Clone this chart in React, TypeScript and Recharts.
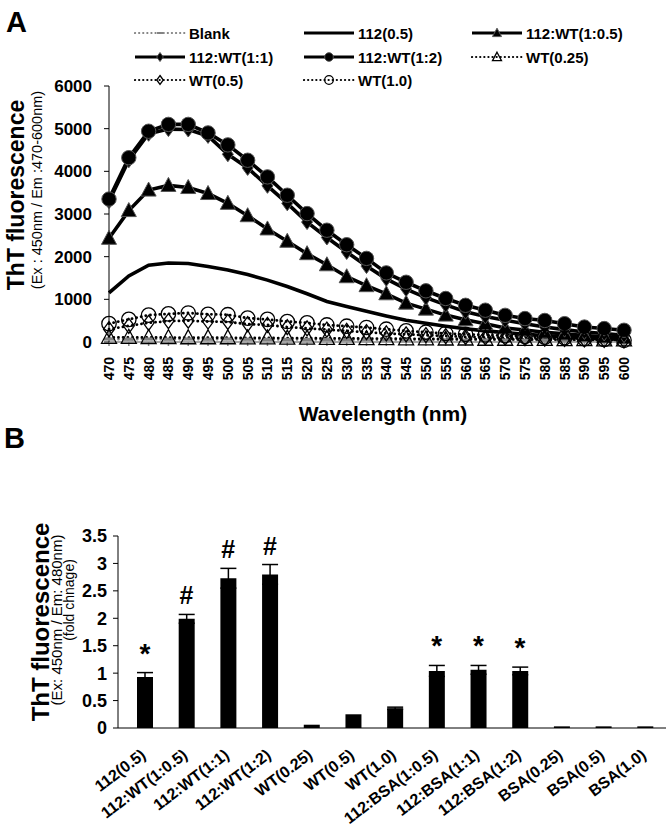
import React from 'react';
import { LineChart, Line, XAxis, YAxis, ComposedChart, Bar, ErrorBar } from 'recharts';

const FONT = '"Liberation Sans", Arial, Helvetica, sans-serif';

// ---------- Panel A data ----------
const wavelengths = [470, 475, 480, 485, 490, 495, 500, 505, 510, 515, 520, 525, 530, 535, 540, 545, 550, 555, 560, 565, 570, 575, 580, 585, 590, 595, 600];
const blank = [70, 65, 70, 65, 70, 65, 70, 65, 60, 60, 60, 55, 55, 55, 50, 50, 50, 50, 45, 45, 45, 40, 40, 40, 40, 35, 35];
const s112 = [1150, 1550, 1800, 1850, 1840, 1770, 1690, 1580, 1450, 1300, 1130, 950, 830, 720, 610, 510, 440, 370, 310, 260, 220, 180, 150, 120, 100, 80, 70];
const wt1to05 = [2430, 3080, 3560, 3670, 3620, 3480, 3250, 2960, 2650, 2360, 2070, 1810, 1530, 1320, 1130, 910, 770, 630, 520, 430, 330, 280, 230, 190, 150, 120, 100];
const wt1to1 = [3300, 4260, 4880, 4990, 4980, 4830, 4400, 4080, 3660, 3250, 2810, 2450, 2110, 1780, 1480, 1240, 1040, 870, 710, 600, 510, 430, 350, 290, 235, 200, 160];
const wt1to2 = [3350, 4320, 4940, 5100, 5100, 4900, 4620, 4260, 3870, 3440, 3010, 2620, 2280, 1960, 1620, 1400, 1200, 1020, 860, 745, 625, 550, 505, 430, 350, 315, 275];
const wt025 = [110, 110, 105, 105, 100, 100, 100, 95, 95, 90, 90, 85, 85, 80, 80, 75, 75, 70, 70, 65, 65, 60, 60, 55, 55, 50, 50];
const wt05 = [300, 380, 450, 490, 500, 480, 470, 420, 400, 350, 320, 290, 260, 230, 200, 180, 160, 140, 120, 110, 100, 90, 80, 70, 60, 50, 40];
const wt10 = [430, 530, 630, 660, 680, 650, 640, 560, 530, 480, 450, 400, 370, 340, 300, 260, 230, 200, 180, 165, 150, 130, 115, 100, 80, 60, 40];
const yTicksA = [0, 1000, 2000, 3000, 4000, 5000, 6000];

// ---------- Panel B data ----------
const groups = ['112(0.5)', '112:WT(1:0.5)', '112:WT(1:1)', '112:WT(1:2)', 'WT(0.25)', 'WT(0.5)', 'WT(1.0)', '112:BSA(1:0.5)', '112:BSA(1:1)', '112:BSA(1:2)', 'BSA(0.25)', 'BSA(0.5)', 'BSA(1.0)'];
const foldChange = [0.93, 1.99, 2.73, 2.8, 0.06, 0.25, 0.36, 1.04, 1.06, 1.04, 0.03, 0.03, 0.03];
const foldError = [0.08, 0.08, 0.18, 0.18, 0, 0, 0.02, 0.1, 0.08, 0.07, 0, 0, 0];
const significance = ['*', '#', '#', '#', '', '', '', '*', '*', '*', '', '', ''];
const yTicksB = [0, 0.5, 1, 1.5, 2, 2.5, 3, 3.5];

type Kind = 'none' | 'dash' | 'triangle' | 'diamond' | 'circle';
interface SeriesDef {
  key: string;
  name: string;
  values: number[];
  dotted: boolean;
  kind: Kind;
  filled: boolean;
  color: string;
  width: number;
}

const seriesDefs: SeriesDef[] = [
  { key: 'blank', name: 'Blank', values: blank, dotted: true, kind: 'dash', filled: true, color: '#808080', width: 2.6 },
  { key: 's112', name: '112(0.5)', values: s112, dotted: false, kind: 'none', filled: true, color: '#000', width: 3.6 },
  { key: 'wt1to05', name: '112:WT(1:0.5)', values: wt1to05, dotted: false, kind: 'triangle', filled: true, color: '#000', width: 3.6 },
  { key: 'wt1to1', name: '112:WT(1:1)', values: wt1to1, dotted: false, kind: 'diamond', filled: true, color: '#000', width: 3.6 },
  { key: 'wt1to2', name: '112:WT(1:2)', values: wt1to2, dotted: false, kind: 'circle', filled: true, color: '#000', width: 3.6 },
  { key: 'wt025', name: 'WT(0.25)', values: wt025, dotted: true, kind: 'triangle', filled: false, color: '#000', width: 2.8 },
  { key: 'wt05', name: 'WT(0.5)', values: wt05, dotted: true, kind: 'diamond', filled: false, color: '#000', width: 2.8 },
  { key: 'wt10', name: 'WT(1.0)', values: wt10, dotted: true, kind: 'circle', filled: false, color: '#000', width: 2.8 },
];

const lineData = wavelengths.map((w, i) => {
  const row: Record<string, number | string> = { wl: String(w) };
  seriesDefs.forEach((s) => {
    row[s.key] = s.values[i];
  });
  return row;
});

const barData = groups.map((g, i) => ({
  name: g,
  value: foldChange[i],
  err: foldError[i],
  mark: significance[i],
  markY: significance[i] ? foldChange[i] + foldError[i] : null,
}));

function Marker({ kind, filled, cx, cy, s = 1 }: { kind: Kind; filled: boolean; cx: number; cy: number; s?: number }) {
  const fill = filled ? '#000' : 'none';
  const stroke = filled ? '#555' : '#000';
  const sw = filled ? 1 : 1.3;
  switch (kind) {
    case 'circle':
      return <circle cx={cx} cy={cy} r={7.2 * s} fill={fill} stroke={stroke} strokeWidth={sw} />;
    case 'triangle':
      return (
        <polygon
          points={`${cx},${cy - 8 * s} ${cx + 7.5 * s},${cy + 6 * s} ${cx - 7.5 * s},${cy + 6 * s}`}
          fill={fill}
          stroke={stroke}
          strokeWidth={sw}
        />
      );
    case 'diamond':
      return (
        <polygon
          points={`${cx},${cy - 7.5 * s} ${cx + 5.5 * s},${cy} ${cx},${cy + 7.5 * s} ${cx - 5.5 * s},${cy}`}
          fill={fill}
          stroke={stroke}
          strokeWidth={sw}
        />
      );
    case 'dash':
      return <rect x={cx - 5 * s} y={cy - 1.6 * s} width={10 * s} height={3.2 * s} fill="#808080" />;
    default:
      return null;
  }
}

function makeDot(def: SeriesDef) {
  return (p: any) => {
    const { cx, cy, index } = p;
    if (cx == null || cy == null) return <g key={`d-${def.key}-${index}`} />;
    return (
      <g key={`d-${def.key}-${index}`}>
        <Marker kind={def.kind} filled={def.filled} cx={cx} cy={cy} />
      </g>
    );
  };
}

const WlTick = (p: any) => {
  const { x, y, payload } = p;
  const ty = y + 11;
  return (
    <text
      x={x}
      y={ty}
      transform={`rotate(-90 ${x} ${ty})`}
      textAnchor="end"
      dominantBaseline="central"
      fontSize={14}
      fontWeight="bold"
      fontFamily={FONT}
      fill="#000"
    >
      {payload.value}
    </text>
  );
};

const GroupTick = (p: any) => {
  const { x, y, payload } = p;
  const tx = x + 2;
  const ty = y + 29;
  return (
    <text
      x={tx}
      y={ty}
      transform={`rotate(-37 ${tx} ${ty})`}
      textAnchor="end"
      fontSize={16}
      fontWeight="bold"
      fontFamily={FONT}
      fill="#000"
    >
      {payload.value}
    </text>
  );
};

const MarkDot = (p: any) => {
  const { cx, cy, index, payload } = p;
  if (cx == null || cy == null || !payload || !payload.mark) return <g key={`m-${index}`} />;
  return (
    <text
      key={`m-${index}`}
      x={cx}
      y={cy - 10}
      textAnchor="middle"
      fontSize={payload.mark === '*' ? 28 : 25}
      fontWeight="bold"
      fontFamily={FONT}
      fill="#000"
    >
      {payload.mark}
    </text>
  );
};

function LegendIcon({ def }: { def: SeriesDef }) {
  return (
    <svg width={52} height={16} style={{ display: 'block' }}>
      <line
        x1={1}
        y1={8}
        x2={51}
        y2={8}
        stroke={def.color}
        strokeWidth={def.dotted ? 2.2 : 3}
        strokeDasharray={def.dotted ? '0.1 4' : undefined}
        strokeLinecap={def.dotted ? 'round' : 'butt'}
      />
      <Marker kind={def.kind} filled={def.filled} cx={26} cy={8} s={0.6} />
    </svg>
  );
}

const legendCols = [134, 303, 471];
const legendRows = [33, 57, 80];

function LegendA() {
  return (
    <div style={{ position: 'absolute', left: 0, top: 0, width: 670, height: 100 }}>
      {seriesDefs.map((d, i) => {
        const col = i % 3;
        const row = Math.floor(i / 3);
        return (
          <div
            key={d.key}
            style={{
              position: 'absolute',
              left: legendCols[col],
              top: legendRows[row] - 9,
              height: 18,
              display: 'flex',
              alignItems: 'center',
              whiteSpace: 'nowrap',
            }}
          >
            <LegendIcon def={d} />
            <span style={{ marginLeft: 3, fontFamily: FONT, fontWeight: 'bold', fontSize: 15, color: '#000' }}>{d.name}</span>
          </div>
        );
      })}
    </div>
  );
}

export default function App() {
  return (
    <div style={{ position: 'absolute', left: 0, top: 0, width: 670, height: 828, background: '#fff', overflow: 'hidden' }}>
      <div style={{ position: 'absolute', left: 0, top: 0 }}>
        <LineChart width={670} height={430} data={lineData} margin={{ top: 86, right: 46, left: 0, bottom: 0 }}>
          <XAxis
            dataKey="wl"
            type="category"
            interval={0}
            height={88}
            stroke="#888"
            strokeWidth={1.5}
            tickSize={4}
            tickMargin={0}
            tick={<WlTick />}
          />
          <YAxis
            width={109}
            domain={[0, 6000]}
            ticks={yTicksA}
            interval={0}
            stroke="#000"
            tickSize={5}
            tickMargin={12}
            tick={{ fontSize: 17, fontWeight: 'bold', fill: '#000', fontFamily: FONT }}
          />
          {seriesDefs.map((d) => (
            <Line
              key={d.key}
              dataKey={d.key}
              name={d.name}
              type="linear"
              stroke={d.color}
              strokeWidth={d.width}
              strokeDasharray={d.dotted ? '0.1 4.6' : undefined}
              strokeLinecap={d.dotted ? 'round' : 'butt'}
              dot={d.kind === 'none' ? false : makeDot(d)}
              activeDot={false}
              isAnimationActive={false}
            />
          ))}
        </LineChart>
      </div>
      <LegendA />
      <div style={{ position: 'absolute', left: 0, top: 430 }}>
        <ComposedChart width={670} height={398} data={barData} margin={{ top: 106, right: 4, left: 0, bottom: 0 }}>
          <XAxis
            dataKey="name"
            type="category"
            interval={0}
            height={100}
            stroke="#000"
            tickLine={false}
            tickSize={0}
            tickMargin={0}
            padding={{ left: 6, right: 0 }}
            tick={<GroupTick />}
          />
          <YAxis
            width={118}
            domain={[0, 3.5]}
            ticks={yTicksB}
            interval={0}
            stroke="#000"
            tickSize={5}
            tickMargin={6}
            tick={{ fontSize: 18, fontWeight: 'bold', fill: '#000', fontFamily: FONT }}
          />
          <Bar dataKey="value" fill="#000" barSize={16} isAnimationActive={false}>
            <ErrorBar dataKey="err" width={8} stroke="#000" strokeWidth={1.5} direction="y" />
          </Bar>
          <Line dataKey="markY" stroke="none" dot={<MarkDot />} activeDot={false} isAnimationActive={false} connectNulls={false} />
        </ComposedChart>
      </div>
      <svg width={670} height={828} style={{ position: 'absolute', left: 0, top: 0, pointerEvents: 'none' }}>
        <g fontFamily={FONT} fill="#000">
          <text x={6} y={32} fontSize={29} fontWeight="bold">A</text>
          <text x={4} y={448} fontSize={29} fontWeight="bold">B</text>
          <text x={16} y={195} transform="rotate(-90 16 195)" textAnchor="middle" dominantBaseline="central" fontSize={23} fontWeight="bold">
            ThT fluorescence
          </text>
          <text x={37} y={190} transform="rotate(-90 37 190)" textAnchor="middle" dominantBaseline="central" fontSize={14.5}>
            (Ex : 450nm / Em :470-600nm)
          </text>
          <text x={383} y={413} textAnchor="middle" dominantBaseline="central" fontSize={21} fontWeight="bold">
            Wavelength (nm)
          </text>
          <text x={40} y={622} transform="rotate(-90 40 622)" textAnchor="middle" dominantBaseline="central" fontSize={24} fontWeight="bold">
            ThT fluorescence
          </text>
          <text x={56} y={620} transform="rotate(-90 56 620)" textAnchor="middle" dominantBaseline="central" fontSize={15}>
            (Ex: 450nm / Em: 480nm)
          </text>
          <text x={69} y={600} transform="rotate(-90 69 600)" textAnchor="middle" dominantBaseline="central" fontSize={14}>
            (fold chnage)
          </text>
        </g>
      </svg>
    </div>
  );
}
